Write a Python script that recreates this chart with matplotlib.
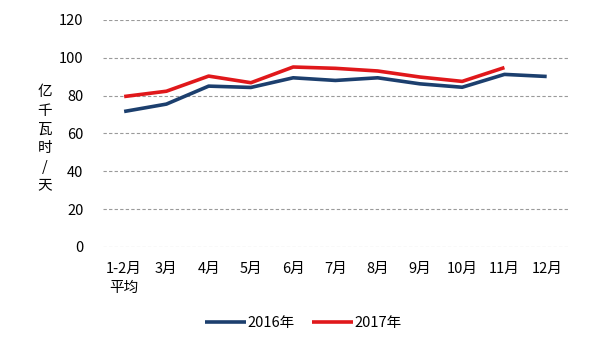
import matplotlib.pyplot as plt
import numpy as np

plt.rcParams['font.family'] = ['Noto Sans CJK SC', 'DejaVu Sans']

months = ["1-2月\n平均", "3月", "4月", "5月", "6月", "7月", "8月", "9月", "10月", "11月", "12月"]
y2016 = [71.6, 75.5, 85.0, 84.3, 89.4, 88.0, 89.4, 86.2, 84.4, 91.2, 90.1]
y2017 = [79.5, 82.3, 90.3, 86.8, 95.1, 94.4, 93.0, 89.8, 87.5, 94.8]
yticks = [0, 20, 40, 60, 80, 100, 120]

fig = plt.figure(figsize=(6.06, 3.43), dpi=100)
ax = fig.add_axes([0.170, 0.280, 0.767, 0.662])

x = np.arange(len(months))
l1, = ax.plot(x, y2016, color="#1C3F6E", lw=2.6, label="2016年", solid_capstyle="butt")
l2, = ax.plot(x[:len(y2017)], y2017, color="#E0181B", lw=2.6, label="2017年", solid_capstyle="butt")

ax.set_xlim(-0.5, len(months) - 0.5)
ax.set_ylim(0, 120)
ax.set_yticks(yticks)
ax.set_xticks(x)
ax.set_xticklabels(months, fontsize=10.5, linespacing=1.45, va="top")
ax.tick_params(axis="y", labelsize=10.5, length=0, pad=14)
ax.tick_params(axis="x", length=0, pad=11)
for lab in ax.get_xticklabels():
    lab.set_horizontalalignment("center")

for t in yticks:
    ax.axhline(t, color="#9a9a9a", lw=0.8, ls=(0, (3, 2)), zorder=0)
for s in ax.spines.values():
    s.set_visible(False)

fig.text(0.074, 0.595, "亿\n千\n瓦\n时\n/\n天", fontsize=10.5, ha="center", va="center",
         linespacing=1.42)

fig.legend(handles=[l1, l2], loc="center", bbox_to_anchor=(0.5, 0.058), ncol=2,
           frameon=False, fontsize=10.5, handlelength=2.8, handletextpad=0.1,
           columnspacing=1.2)

fig.savefig("out.png", dpi=100)
